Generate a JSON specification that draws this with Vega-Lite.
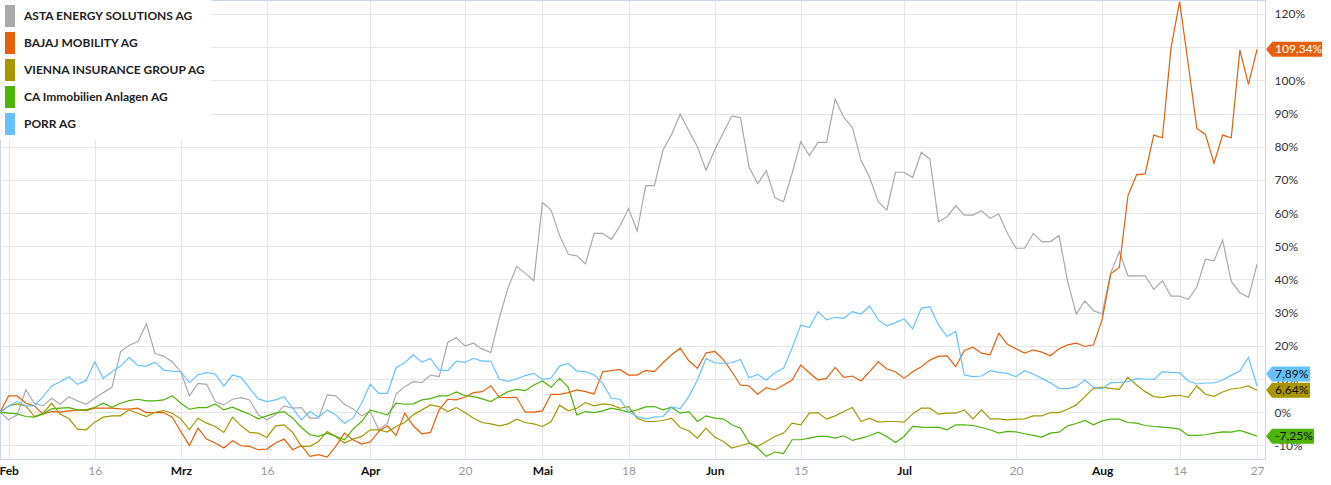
{
  "$schema": "https://vega.github.io/schema/vega-lite/v6.json",
  "width": 1265,
  "height": 459,
  "autosize": {"type": "none"},
  "padding": {"left": 0, "top": 0, "right": 66, "bottom": 26},
  "background": "white",
  "config": {"view": {"stroke": "#ccd6eb"}, "font": "Lato"},
  "datasets": {
    "series": [
      {"key": "asta", "name": "ASTA ENERGY SOLUTIONS AG"},
      {"key": "bajaj", "name": "BAJAJ MOBILITY AG"},
      {"key": "vig", "name": "VIENNA INSURANCE GROUP AG"},
      {"key": "ca", "name": "CA Immobilien Anlagen AG"},
      {"key": "porr", "name": "PORR AG"}
    ],
    "prices": [
      {"t":0,"asta":0,"bajaj":0,"vig":0,"ca":0,"porr":0},
      {"t":1,"asta":-2.3,"bajaj":4.9,"vig":1.9,"ca":-0.3,"porr":1.9},
      {"t":2,"asta":-0.8,"bajaj":4.9,"vig":2.5,"ca":-0.5,"porr":3.2},
      {"t":3,"asta":6.7,"bajaj":2.7,"vig":1.9,"ca":-1.3,"porr":1.9},
      {"t":4,"asta":2.7,"bajaj":1.9,"vig":-1.3,"ca":-1.5,"porr":1.9},
      {"t":5,"asta":1.9,"bajaj":-0.6,"vig":-0.3,"ca":-0.5,"porr":4.7},
      {"t":6,"asta":4.2,"bajaj":0.2,"vig":2.7,"ca":1.0,"porr":7.9},
      {"t":7,"asta":2.4,"bajaj":0.0,"vig":-0.6,"ca":1.2,"porr":9.2},
      {"t":8,"asta":4.7,"bajaj":0.4,"vig":-1.9,"ca":1.4,"porr":10.7},
      {"t":9,"asta":3.4,"bajaj":0.7,"vig":-5.1,"ca":0.7,"porr":8.4},
      {"t":10,"asta":2.4,"bajaj":0.5,"vig":-5.3,"ca":0.7,"porr":9.5},
      {"t":11,"asta":4.2,"bajaj":1.2,"vig":-3.0,"ca":1.5,"porr":15.2},
      {"t":12,"asta":5.9,"bajaj":1.2,"vig":-1.5,"ca":2.7,"porr":10.2},
      {"t":13,"asta":7.5,"bajaj":1.2,"vig":-1.1,"ca":1.5,"porr":12.2},
      {"t":14,"asta":18.2,"bajaj":1.0,"vig":-1.1,"ca":2.7,"porr":13.9},
      {"t":15,"asta":20.2,"bajaj":0.9,"vig":0.7,"ca":3.5,"porr":16.5},
      {"t":16,"asta":21.2,"bajaj":1.2,"vig":-0.3,"ca":3.9,"porr":14.1},
      {"t":17,"asta":26.6,"bajaj":-0.1,"vig":-1.3,"ca":3.4,"porr":13.9},
      {"t":18,"asta":17.7,"bajaj":-0.1,"vig":0.0,"ca":3.4,"porr":15.1},
      {"t":19,"asta":16.9,"bajaj":-0.1,"vig":0.5,"ca":3.7,"porr":12.7},
      {"t":20,"asta":15.2,"bajaj":-1.5,"vig":-0.3,"ca":5.0,"porr":12.4},
      {"t":21,"asta":12.2,"bajaj":-5.8,"vig":-2.0,"ca":2.7,"porr":12.2},
      {"t":22,"asta":4.9,"bajaj":-10.0,"vig":-5.3,"ca":0.9,"porr":8.9},
      {"t":23,"asta":8.7,"bajaj":-4.8,"vig":-1.8,"ca":1.4,"porr":11.3},
      {"t":24,"asta":8.4,"bajaj":-8.1,"vig":-3.3,"ca":1.4,"porr":11.9},
      {"t":25,"asta":3.2,"bajaj":-9.3,"vig":-4.3,"ca":2.5,"porr":11.5},
      {"t":26,"asta":2.2,"bajaj":-10.8,"vig":-6.1,"ca":0.7,"porr":7.9},
      {"t":27,"asta":3.9,"bajaj":-8.6,"vig":-1.5,"ca":1.5,"porr":11.2},
      {"t":28,"asta":4.4,"bajaj":-10.1,"vig":-4.1,"ca":0.4,"porr":10.5},
      {"t":29,"asta":3.7,"bajaj":-10.3,"vig":-6.1,"ca":-0.6,"porr":7.2},
      {"t":30,"asta":-0.8,"bajaj":-11.3,"vig":-6.3,"ca":-2.0,"porr":4.0},
      {"t":31,"asta":-2.3,"bajaj":-11.1,"vig":-7.6,"ca":-1.1,"porr":3.2},
      {"t":32,"asta":-0.8,"bajaj":-9.3,"vig":-4.1,"ca":-0.3,"porr":3.7},
      {"t":33,"asta":1.9,"bajaj":-8.1,"vig":-3.8,"ca":0.2,"porr":4.7},
      {"t":34,"asta":1.2,"bajaj":-11.3,"vig":-6.1,"ca":-1.8,"porr":1.2},
      {"t":35,"asta":1.4,"bajaj":-10.0,"vig":-10.3,"ca":-4.6,"porr":-2.3},
      {"t":36,"asta":-1.8,"bajaj":-13.3,"vig":-10.3,"ca":-6.8,"porr":0.2},
      {"t":37,"asta":-1.8,"bajaj":-12.8,"vig":-8.8,"ca":-7.3,"porr":-1.5},
      {"t":38,"asta":5.2,"bajaj":-13.5,"vig":-5.8,"ca":-6.3,"porr":0.7},
      {"t":39,"asta":4.9,"bajaj":-10.3,"vig":-7.3,"ca":-7.3,"porr":-0.8},
      {"t":40,"asta":2.4,"bajaj":-6.3,"vig":-9.3,"ca":-8.3,"porr":-3.3},
      {"t":41,"asta":1.0,"bajaj":-8.3,"vig":-8.1,"ca":-5.1,"porr":-1.8},
      {"t":42,"asta":-1.1,"bajaj":-9.6,"vig":-7.3,"ca":-2.8,"porr":2.7},
      {"t":43,"asta":0.2,"bajaj":-9.0,"vig":-5.3,"ca":0.7,"porr":8.5},
      {"t":44,"asta":-5.3,"bajaj":-5.8,"vig":-5.3,"ca":-0.1,"porr":5.7},
      {"t":45,"asta":-3.3,"bajaj":-4.1,"vig":-6.0,"ca":-0.8,"porr":5.7},
      {"t":46,"asta":5.5,"bajaj":-7.0,"vig":-4.3,"ca":2.7,"porr":13.4},
      {"t":47,"asta":7.7,"bajaj":-0.3,"vig":-3.1,"ca":2.4,"porr":14.9},
      {"t":48,"asta":9.2,"bajaj":-4.1,"vig":-0.8,"ca":2.5,"porr":17.3},
      {"t":49,"asta":8.9,"bajaj":-6.5,"vig":0.7,"ca":3.7,"porr":15.1},
      {"t":50,"asta":11.2,"bajaj":-6.1,"vig":2.2,"ca":4.1,"porr":16.2},
      {"t":51,"asta":10.7,"bajaj":0.7,"vig":1.7,"ca":4.9,"porr":12.7},
      {"t":52,"asta":21.0,"bajaj":3.9,"vig":0.2,"ca":4.9,"porr":12.5},
      {"t":53,"asta":22.5,"bajaj":3.7,"vig":1.4,"ca":6.1,"porr":15.4},
      {"t":54,"asta":20.0,"bajaj":4.5,"vig":-0.1,"ca":5.0,"porr":15.0},
      {"t":55,"asta":20.8,"bajaj":5.9,"vig":-1.8,"ca":4.7,"porr":16.2},
      {"t":56,"asta":19.0,"bajaj":6.2,"vig":-3.1,"ca":4.0,"porr":15.4},
      {"t":57,"asta":18.0,"bajaj":7.9,"vig":-3.5,"ca":3.2,"porr":15.4},
      {"t":58,"asta":28.5,"bajaj":4.5,"vig":-4.1,"ca":4.7,"porr":9.9},
      {"t":59,"asta":37.4,"bajaj":4.4,"vig":-3.5,"ca":6.2,"porr":9.3},
      {"t":60,"asta":43.9,"bajaj":4.5,"vig":-2.1,"ca":6.9,"porr":10.0},
      {"t":61,"asta":41.9,"bajaj":0.0,"vig":-3.1,"ca":6.5,"porr":11.0},
      {"t":62,"asta":39.6,"bajaj":0.0,"vig":-3.5,"ca":8.2,"porr":11.7},
      {"t":63,"asta":63.2,"bajaj":0.4,"vig":-4.3,"ca":9.4,"porr":9.9},
      {"t":64,"asta":60.9,"bajaj":5.4,"vig":-2.9,"ca":7.5,"porr":10.3},
      {"t":65,"asta":53.2,"bajaj":5.4,"vig":2.1,"ca":10.2,"porr":13.9},
      {"t":66,"asta":47.6,"bajaj":5.9,"vig":0.4,"ca":7.5,"porr":14.7},
      {"t":67,"asta":47.1,"bajaj":6.7,"vig":1.2,"ca":-0.8,"porr":12.4},
      {"t":68,"asta":44.7,"bajaj":6.2,"vig":2.9,"ca":0.2,"porr":12.3},
      {"t":69,"asta":53.9,"bajaj":5.5,"vig":1.9,"ca":-0.1,"porr":11.2},
      {"t":70,"asta":53.9,"bajaj":12.2,"vig":2.5,"ca":0.4,"porr":8.7},
      {"t":71,"asta":52.1,"bajaj":12.5,"vig":2.2,"ca":1.2,"porr":4.2},
      {"t":72,"asta":56.1,"bajaj":12.9,"vig":1.2,"ca":0.7,"porr":3.9},
      {"t":73,"asta":61.4,"bajaj":11.2,"vig":1.7,"ca":0.0,"porr":0.2},
      {"t":74,"asta":54.6,"bajaj":11.2,"vig":-1.8,"ca":0.7,"porr":-1.3},
      {"t":75,"asta":68.3,"bajaj":12.6,"vig":-2.8,"ca":1.6,"porr":-2.0},
      {"t":76,"asta":68.3,"bajaj":12.2,"vig":-2.8,"ca":1.7,"porr":-1.5},
      {"t":77,"asta":79.0,"bajaj":14.9,"vig":-2.5,"ca":0.7,"porr":-1.3},
      {"t":78,"asta":83.7,"bajaj":17.3,"vig":-1.8,"ca":1.5,"porr":1.5},
      {"t":79,"asta":89.8,"bajaj":19.3,"vig":-4.6,"ca":-0.3,"porr":1.1},
      {"t":80,"asta":84.8,"bajaj":15.5,"vig":-5.6,"ca":0.2,"porr":4.7},
      {"t":81,"asta":80.0,"bajaj":13.2,"vig":-7.8,"ca":-2.8,"porr":9.7},
      {"t":82,"asta":72.9,"bajaj":17.8,"vig":-4.8,"ca":-1.1,"porr":16.2},
      {"t":83,"asta":79.0,"bajaj":18.3,"vig":-7.5,"ca":-1.8,"porr":14.9},
      {"t":84,"asta":84.2,"bajaj":15.9,"vig":-8.8,"ca":-2.0,"porr":14.7},
      {"t":85,"asta":89.3,"bajaj":12.2,"vig":-10.8,"ca":-3.8,"porr":14.9},
      {"t":86,"asta":88.7,"bajaj":8.2,"vig":-10.1,"ca":-4.8,"porr":15.9},
      {"t":87,"asta":73.9,"bajaj":7.9,"vig":-9.3,"ca":-9.1,"porr":10.4},
      {"t":88,"asta":68.9,"bajaj":5.4,"vig":-10.3,"ca":-10.8,"porr":11.4},
      {"t":89,"asta":72.8,"bajaj":7.4,"vig":-8.8,"ca":-13.3,"porr":9.7},
      {"t":90,"asta":64.6,"bajaj":6.7,"vig":-7.3,"ca":-12.0,"porr":11.9},
      {"t":91,"asta":63.4,"bajaj":8.2,"vig":-6.3,"ca":-12.5,"porr":13.2},
      {"t":92,"asta":72.0,"bajaj":9.7,"vig":-3.3,"ca":-8.3,"porr":19.3},
      {"t":93,"asta":81.5,"bajaj":14.2,"vig":-3.8,"ca":-8.3,"porr":26.3},
      {"t":94,"asta":77.3,"bajaj":11.9,"vig":-0.3,"ca":-7.8,"porr":25.5},
      {"t":95,"asta":81.3,"bajaj":9.7,"vig":-0.1,"ca":-7.3,"porr":30.3},
      {"t":96,"asta":81.3,"bajaj":10.2,"vig":-2.1,"ca":-7.3,"porr":27.8},
      {"t":97,"asta":94.3,"bajaj":13.5,"vig":-1.1,"ca":-7.8,"porr":28.6},
      {"t":98,"asta":88.8,"bajaj":10.5,"vig":0.2,"ca":-7.1,"porr":28.3},
      {"t":99,"asta":85.8,"bajaj":10.9,"vig":1.4,"ca":-8.5,"porr":30.3},
      {"t":100,"asta":75.9,"bajaj":9.4,"vig":-2.8,"ca":-7.8,"porr":29.6},
      {"t":101,"asta":70.7,"bajaj":12.2,"vig":-1.8,"ca":-7.1,"porr":32.0},
      {"t":102,"asta":63.4,"bajaj":15.2,"vig":-3.0,"ca":-6.0,"porr":27.8},
      {"t":103,"asta":60.9,"bajaj":13.0,"vig":-2.8,"ca":-7.3,"porr":26.0},
      {"t":104,"asta":72.3,"bajaj":12.2,"vig":-2.8,"ca":-9.1,"porr":27.0},
      {"t":105,"asta":72.3,"bajaj":10.2,"vig":-3.0,"ca":-7.3,"porr":28.1},
      {"t":106,"asta":70.7,"bajaj":12.2,"vig":-0.5,"ca":-4.3,"porr":25.1},
      {"t":107,"asta":78.3,"bajaj":13.7,"vig":1.2,"ca":-4.5,"porr":31.3},
      {"t":108,"asta":76.3,"bajaj":15.7,"vig":1.2,"ca":-4.6,"porr":31.8},
      {"t":109,"asta":57.4,"bajaj":16.8,"vig":-0.6,"ca":-4.5,"porr":26.3},
      {"t":110,"asta":58.9,"bajaj":17.0,"vig":-0.3,"ca":-5.3,"porr":22.8},
      {"t":111,"asta":62.2,"bajaj":13.7,"vig":-0.3,"ca":-3.8,"porr":24.3},
      {"t":112,"asta":59.4,"bajaj":18.6,"vig":0.7,"ca":-3.8,"porr":11.2},
      {"t":113,"asta":59.4,"bajaj":19.6,"vig":-2.0,"ca":-4.0,"porr":10.7},
      {"t":114,"asta":60.7,"bajaj":17.8,"vig":0.7,"ca":-4.6,"porr":10.9},
      {"t":115,"asta":58.4,"bajaj":17.3,"vig":-2.0,"ca":-5.3,"porr":12.5},
      {"t":116,"asta":59.7,"bajaj":23.8,"vig":-2.0,"ca":-6.3,"porr":12.0},
      {"t":117,"asta":53.9,"bajaj":20.5,"vig":-2.3,"ca":-5.8,"porr":11.7},
      {"t":118,"asta":49.4,"bajaj":19.1,"vig":-2.1,"ca":-5.9,"porr":10.7},
      {"t":119,"asta":49.4,"bajaj":17.8,"vig":-2.0,"ca":-6.5,"porr":12.5},
      {"t":120,"asta":53.8,"bajaj":18.8,"vig":-1.1,"ca":-7.0,"porr":11.5},
      {"t":121,"asta":51.4,"bajaj":18.1,"vig":-1.1,"ca":-7.5,"porr":10.2},
      {"t":122,"asta":51.4,"bajaj":17.0,"vig":-0.1,"ca":-6.3,"porr":8.9},
      {"t":123,"asta":53.2,"bajaj":19.1,"vig":-0.1,"ca":-6.0,"porr":7.2},
      {"t":124,"asta":39.4,"bajaj":20.3,"vig":0.9,"ca":-4.1,"porr":7.1},
      {"t":125,"asta":29.6,"bajaj":20.8,"vig":2.2,"ca":-3.4,"porr":7.7},
      {"t":126,"asta":33.5,"bajaj":19.8,"vig":4.7,"ca":-2.5,"porr":9.7},
      {"t":127,"asta":30.6,"bajaj":20.3,"vig":7.2,"ca":-3.8,"porr":7.5},
      {"t":128,"asta":29.6,"bajaj":27.8,"vig":7.5,"ca":-2.6,"porr":7.0},
      {"t":129,"asta":41.9,"bajaj":41.7,"vig":7.2,"ca":-2.1,"porr":8.9},
      {"t":130,"asta":48.4,"bajaj":43.6,"vig":6.9,"ca":-2.1,"porr":9.0},
      {"t":131,"asta":41.1,"bajaj":65.2,"vig":10.5,"ca":-3.1,"porr":9.2},
      {"t":132,"asta":41.1,"bajaj":71.5,"vig":8.2,"ca":-3.3,"porr":10.1},
      {"t":133,"asta":41.1,"bajaj":71.8,"vig":6.2,"ca":-4.0,"porr":10.0},
      {"t":134,"asta":37.0,"bajaj":83.5,"vig":4.7,"ca":-4.3,"porr":9.9},
      {"t":135,"asta":39.6,"bajaj":82.7,"vig":4.4,"ca":-4.5,"porr":12.2},
      {"t":136,"asta":35.0,"bajaj":109.6,"vig":4.9,"ca":-4.7,"porr":12.0},
      {"t":137,"asta":35.0,"bajaj":123.7,"vig":5.1,"ca":-5.1,"porr":11.9},
      {"t":138,"asta":34.0,"bajaj":105.0,"vig":4.5,"ca":-7.0,"porr":9.4},
      {"t":139,"asta":37.7,"bajaj":85.5,"vig":7.9,"ca":-7.0,"porr":8.5},
      {"t":140,"asta":46.1,"bajaj":83.7,"vig":5.4,"ca":-6.8,"porr":8.8},
      {"t":141,"asta":45.6,"bajaj":75.0,"vig":4.8,"ca":-6.3,"porr":8.8},
      {"t":142,"asta":51.9,"bajaj":83.5,"vig":6.1,"ca":-5.9,"porr":9.7},
      {"t":143,"asta":39.4,"bajaj":82.7,"vig":7.0,"ca":-6.0,"porr":11.1},
      {"t":144,"asta":36.0,"bajaj":109.1,"vig":7.3,"ca":-5.5,"porr":12.4},
      {"t":145,"asta":34.6,"bajaj":98.8,"vig":7.9,"ca":-6.3,"porr":16.5},
      {"t":146,"asta":44.6,"bajaj":109.34,"vig":6.64,"ca":-7.25,"porr":7.89}
    ]
  },
  "data": {"name": "prices"},
  "transform": [
    {"fold": ["asta", "bajaj", "vig", "ca", "porr"], "as": ["key", "v"]},
    {"lookup": "key", "from": {"data": {"name": "series"}, "key": "key", "fields": ["name"]}}
  ],
  "encoding": {
    "x": {
      "field": "t",
      "type": "quantitative",
      "scale": {"domain": [0, 146.92], "nice": false, "zero": false},
      "axis": {
        "title": null,
        "orient": "bottom",
        "values": [1, 11, 21, 31, 43, 54, 63, 73, 83, 93, 105, 118, 128, 137, 146],
        "labelExpr": "['Feb','16','Mrz','16','Apr','20','Mai','18','Jun','15','Jul','20','Aug','14','27'][indexof([1,11,21,31,43,54,63,73,83,93,105,118,128,137,146], datum.value)]",
        "labelFontWeight": {"condition": {"test": "indexof([1,21,43,63,83,105,128], datum.value) >= 0", "value": "bold"}, "value": "normal"},
        "labelColor": {"condition": {"test": "indexof([1,21,43,63,83,105,128], datum.value) >= 0", "value": "#111111"}, "value": "#999999"},
        "labelFont": "Lato",
        "labelFontSize": 12,
        "labelPadding": 6,
        "labelFlush": false,
        "labelOverlap": false,
        "labelBound": false,
        "domain": false,
        "ticks": false,
        "tickSize": 0,
        "grid": true,
        "gridColor": "#e6e6e6"
      }
    },
    "y": {
      "field": "v",
      "type": "quantitative",
      "scale": {"domain": [-14.1, 124.2], "nice": false, "zero": false},
      "axis": {
        "title": null,
        "orient": "right",
        "values": [-10, 0, 10, 20, 30, 40, 50, 60, 70, 80, 90, 100, 110, 120],
        "labelExpr": "datum.value + '%'",
        "labelFont": "Lato",
        "labelFontSize": 12,
        "labelColor": "#333333",
        "labelPadding": 9,
        "labelAlign": "left",
        "labelBaseline": "middle",
        "labelOverlap": false,
        "domain": false,
        "ticks": false,
        "tickSize": 0,
        "grid": true,
        "gridColor": "#e6e6e6"
      }
    },
    "color": {
      "field": "name",
      "type": "nominal",
      "scale": {
        "domain": ["ASTA ENERGY SOLUTIONS AG", "BAJAJ MOBILITY AG", "VIENNA INSURANCE GROUP AG", "CA Immobilien Anlagen AG", "PORR AG"],
        "range": ["#aaaaaa", "#e65f0b", "#a89600", "#4fb308", "#66c2ff"]
      },
      "legend": {
        "title": null,
        "orient": "top-left",
        "offset": 0,
        "padding": 5,
        "fillColor": "#ffffff",
        "symbolType": "M-1,-1 L-0.09,-1 L-0.09,1 L-1,1 Z",
        "symbolSize": 484,
        "symbolStrokeWidth": 0,
        "symbolOpacity": 1,
        "labelFont": "Lato",
        "labelFontSize": 12,
        "labelFontWeight": "bold",
        "labelColor": "#222222",
        "labelOffset": -3,
        "rowPadding": 5,
        "labelLimit": 400,
        "encode": {
          "symbols": {
            "update": {
              "fill": {"scale": "color", "field": "value"},
              "stroke": {"value": "transparent"},
              "strokeWidth": {"value": 0},
              "opacity": {"value": 1}
            }
          }
        }
      }
    }
  },
  "layer": [
    {"mark": {"type": "line", "strokeWidth": 1.2}},
    {
      "transform": [{"filter": "datum.t == 146 && datum.key != 'asta'"}],
      "mark": {"type": "point", "filled": true, "size": 4, "opacity": 1, "strokeWidth": 0},
      "encoding": {
        "shape": {
          "condition": [
            {"test": "datum.key == 'bajaj'", "value": "M9,0 L15,-7.5 L65,-7.5 L65,7.5 L15,7.5 Z"},
            {"test": "datum.key == 'porr'", "value": "M9,-12 L15,-19.5 L53,-19.5 L53,-4.5 L15,-4.5 Z"},
            {"test": "datum.key == 'ca'", "value": "M9,0 L15,-7.5 L57,-7.5 L57,7.5 L15,7.5 Z"}
          ],
          "value": "M9,0 L15,-7.5 L53,-7.5 L53,7.5 L15,7.5 Z"
        }
      }
    },
    {
      "transform": [
        {"filter": "datum.t == 146 && datum.key != 'asta' && datum.key != 'porr'"},
        {"calculate": "replace(toString(datum.v), '.', ',') + '%'", "as": "label"}
      ],
      "mark": {"type": "text", "align": "left", "baseline": "middle", "dx": 18, "font": "Lato", "fontSize": 12},
      "encoding": {
        "text": {"field": "label"},
        "color": {"condition": {"test": "datum.key == 'bajaj'", "value": "#ffffff"}, "value": "#111111"}
      }
    },
    {
      "transform": [
        {"filter": "datum.t == 146 && datum.key == 'porr'"},
        {"calculate": "replace(toString(datum.v), '.', ',') + '%'", "as": "label"}
      ],
      "mark": {"type": "text", "align": "left", "baseline": "middle", "dx": 18, "dy": -12, "font": "Lato", "fontSize": 12},
      "encoding": {
        "text": {"field": "label"},
        "color": {"value": "#111111"}
      }
    }
  ]
}
